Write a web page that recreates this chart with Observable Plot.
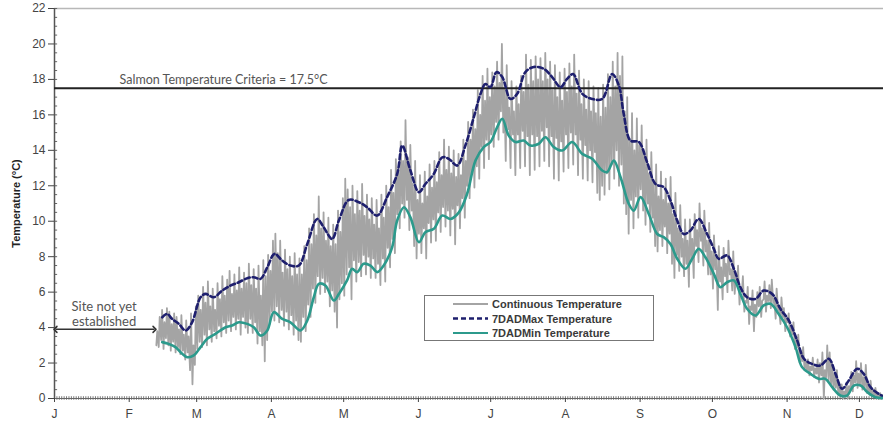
<!DOCTYPE html>
<html><head><meta charset="utf-8">
<script src="https://cdn.jsdelivr.net/npm/d3@7"></script>
<script src="https://cdn.jsdelivr.net/npm/@observablehq/plot@0.6"></script>
<style>
body{margin:0;background:#fff;}
#wrap{position:relative;width:883px;height:425px;overflow:hidden;}
#wrap svg{display:block;}
g[aria-label="y-axis label"] text{font-weight:bold;font-size:11px;fill:#222;}
#legend{position:absolute;left:0;top:0;}
</style></head><body><div id="wrap"></div>
<script>
// ---- data ----
const monthLabels = ["J","F","M","A","M","J","J","A","S","O","N","D"];
const yTicks = [0,2,4,6,8,10,12,14,16,18,20,22];
const criteria = 17.5;
const criteriaLabel = "Salmon Temperature Criteria = 17.5°C";
const siteNote = "Site not yet\nestablished";
const siteEndDay = 42;      // day-of-year when logging starts
const siteArrowY = 3.9;
const lastDay = 344;        // right edge of plot (day-of-year)

// continuous temperature: daily low / high, from day contStartDay
const contStartDay = 42;
const contHigh = [
3.8,4.6,5.0,4.3,5.1,4.9,4.2,4.8,4.6,3.9,
4.7,3.6,4.4,3.5,4.8,3.0,5.2,5.8,5.0,6.3,
5.4,6.6,5.2,6.2,5.0,6.5,5.6,6.9,5.8,6.7,
7.2,5.9,7.0,6.1,7.4,6.2,7.1,6.5,7.6,6.4,
7.3,6.2,7.5,5.8,7.8,6.9,8.1,7.2,8.9,9.3,
8.2,8.9,7.1,8.4,7.3,8.0,6.9,8.2,7.0,7.9,
7.0,8.6,7.8,9.6,8.7,10.4,9.2,11.4,9.6,10.5,
8.9,10.2,8.6,9.8,8.7,10.6,9.4,11.3,12.4,11.8,
10.8,12.0,10.4,11.7,10.6,12.1,10.3,11.5,10.1,11.3,
9.8,11.2,9.6,11.5,10.2,12.0,10.8,12.9,11.6,13.5,
13.0,14.5,13.4,15.7,13.6,14.3,12.1,13.4,11.2,12.6,
11.0,12.8,11.4,13.2,11.9,13.4,12.2,13.9,12.6,14.6,
12.9,14.2,12.7,14.0,12.5,13.8,12.6,14.6,13.4,15.6,
14.6,16.3,15.2,17.4,16.0,18.2,16.8,18.6,17.0,18.4,
17.6,19.0,17.8,20.0,17.5,18.8,16.4,17.9,16.2,17.6,
16.6,18.2,17.3,19.4,17.7,19.1,17.9,19.3,18.0,19.2,
17.9,19.5,18.0,19.0,17.4,18.8,17.0,18.4,16.8,18.6,
17.3,18.9,17.6,19.4,17.2,18.5,16.6,18.0,16.3,17.9,
16.2,17.6,16.1,17.5,15.9,17.7,16.4,18.3,17.0,19.0,
17.6,19.5,18.2,19.3,16.2,17.0,14.6,16.1,14.0,15.8,
14.3,15.4,13.8,14.6,12.7,13.9,12.1,13.2,11.4,12.8,
11.2,12.4,11.0,12.5,10.4,11.6,9.6,10.9,9.0,10.1,
8.9,10.1,9.0,10.4,9.5,11.0,9.6,10.6,8.9,9.9,
8.3,9.2,7.9,8.6,7.4,8.5,7.6,8.9,7.3,8.3,
6.8,7.5,6.2,6.9,5.5,6.3,5.2,6.1,5.3,6.0,
6.3,5.5,6.6,5.8,6.4,6.7,5.6,6.2,5.0,5.7,
5.1,4.5,4.8,4.1,4.3,3.4,3.6,2.7,2.9,2.1,
2.2,1.8,2.3,1.7,2.2,2.0,2.6,1.6,3.0,2.6,
2.0,1.4,1.6,0.9,0.8,0.4,0.9,0.7,1.5,1.3,
2.1,1.4,2.0,1.2,1.9,0.9,1.0,0.5,0.6,0.3,0.3,0.2,0.1];
const contLow = [
3.0,2.9,3.3,2.8,3.4,3.0,2.7,3.2,2.6,2.9,
2.5,2.7,2.2,2.6,1.6,0.8,1.9,2.8,3.2,2.9,
3.6,3.0,3.9,3.2,3.8,3.4,4.1,3.5,4.3,3.7,
4.4,3.8,4.6,3.9,4.5,3.6,4.6,4.0,3.7,4.5,
3.7,4.3,3.1,3.8,3.0,2.1,3.3,4.2,4.9,4.4,
5.2,4.3,5.0,4.1,4.9,3.9,4.7,3.6,4.4,3.3,
3.2,4.6,3.8,5.3,4.6,6.2,5.4,6.9,5.9,6.8,
6.0,6.6,5.2,6.1,4.9,4.0,5.6,6.5,5.8,7.0,
7.4,5.6,7.8,6.6,7.7,6.9,8.1,7.0,8.0,6.8,
7.9,6.8,7.6,6.4,7.9,6.6,8.5,7.4,9.0,8.2,
10.4,9.6,11.0,10.2,11.2,9.5,10.6,8.6,7.9,9.3,
8.2,9.6,7.9,9.9,8.8,10.1,8.9,10.5,9.4,10.8,
9.7,10.6,9.2,10.7,8.7,10.9,9.6,11.3,10.2,12.0,
11.3,12.8,11.9,13.1,12.4,14.2,13.0,14.6,13.5,14.9,
14.2,15.6,14.6,16.2,15.0,13.4,15.2,13.0,14.9,12.6,
14.9,13.0,15.1,13.1,14.8,12.6,14.9,12.9,14.8,13.1,
15.1,13.4,15.3,13.1,14.8,12.4,14.7,12.3,14.5,12.8,
14.9,13.0,15.0,13.2,14.9,12.6,14.6,12.4,14.3,12.3,
14.0,12.2,13.9,11.6,11.2,12.0,11.5,12.7,11.8,13.2,
12.4,14.0,12.0,13.2,11.0,10.4,9.3,11.2,9.6,11.4,
10.2,11.8,10.6,9.8,11.0,9.4,10.2,8.6,8.3,9.5,
8.6,9.7,8.2,9.3,7.6,6.8,8.1,7.2,8.0,6.9,
7.6,6.3,7.9,6.8,8.6,7.7,8.9,7.5,8.3,7.0,
7.0,6.2,7.3,5.0,6.6,5.6,6.9,6.0,7.0,6.1,
5.9,6.5,5.3,6.0,4.9,5.4,4.2,5.0,3.8,4.6,
5.2,4.6,5.6,4.9,5.5,5.1,5.4,4.5,5.0,4.2,
4.6,3.8,4.3,3.5,3.6,2.8,2.9,2.0,2.1,1.6,
1.6,1.3,1.6,1.2,1.4,0.9,1.3,0.0,1.2,1.0,
0.8,0.5,0.6,0.2,0.1,0.0,0.2,0.0,0.5,0.4,
0.9,0.6,0.8,0.5,0.6,0.3,0.2,0.1,0.1,0.0,0.0,0.0,0.0];

// 7-day average of daily maximum (day-of-year, °C)
const maxDays = [44.7,46.7,48.8,51.6,54.4,57.1,60.6,62.7,66.1,69.6,73,76.5,80,82.7,85.5,88.3,91.3,94.5,97.9,101.4,104.9,109,111.7,115.2,118,122.1,126.3,129.7,133.9,138,142.2,144.3,147.7,151.2,153.9,157.4,160.9,163.6,167.1,170.5,174,176.8,178.8,180.9,183.4,185.8,189.2,192,195.4,198.9,203,206.5,210,212.7,215.2,219,223.1,227.3,231.4,234.2,236.2,239,242.5,245.9,249.4,252.8,255.6,258.4,261.1,263.9,267.3,270.8,273.6,275.6,279.1,281.9,284.6,287.4,290.9,294.3,297.8,301.2,304.7,308.2,311,314.4,317.8,321.3,324.1,326.8,329.6,333.1,335.8,338.6,342,344];
const maxVals = [4.58,4.77,4.49,4.21,3.83,4.3,5.71,5.9,5.71,6.09,6.37,6.56,6.79,6.84,6.75,7.4,8.16,7.78,7.5,7.5,8.72,10.13,9.66,9.0,10.04,11.2,11.07,10.79,10.32,11.36,12.67,14.27,12.86,11.64,12.1,12.67,13.6,13.52,13.14,14.27,15.87,17.19,17.74,17.56,18.41,18.13,16.9,17.19,18.41,18.7,18.6,18.13,17.56,18.03,18.3,17.19,16.9,16.9,18.3,17.65,16.06,14.55,14.47,13.33,12.1,11.92,11.17,10.04,9.28,9.48,10.13,9.28,8.44,7.88,8.07,7.32,6.28,5.71,5.62,6.09,5.9,5.06,4.4,3.27,2.24,1.95,1.86,2.24,1.39,0.55,1.02,1.68,1.39,0.64,0.26,0.1];

// 7-day average of daily minimum (day-of-year, °C)
const minDays = [44.7,47.4,50.2,53,55.1,57.8,60.6,63.4,66.8,71,73.7,76.5,80,82.7,85.5,88.3,91,94.5,97.9,102.1,104.9,107.6,109.7,112.4,115.9,118,121.4,123.5,125.6,128.3,131.1,133.9,136.6,140.1,142.2,145,147.7,151.2,153.9,157.4,160.9,164.3,167.8,171.2,174.7,178.1,180.9,183.7,185.8,188.5,191.3,194.7,197.5,201,203.7,207.2,210.7,214.8,219,223.1,227.3,229.3,232.1,234.9,238.3,240.4,243.2,246.6,250.1,252.8,255.6,258.4,261.8,264.6,267.3,270.1,273.6,276.3,279.1,281.9,284.6,287.4,290.9,294.3,297.1,300.5,304,307.5,310.2,313.7,317.1,319.9,322.7,326.1,328.9,331.7,334.5,337.3,340.7,344];
const minVals = [3.18,3.08,2.9,2.52,2.33,2.43,2.9,3.37,3.65,4.02,4.12,4.3,4.21,4.02,3.55,3.84,4.87,4.49,4.3,3.84,4.4,5.71,6.47,6.37,5.53,5.9,6.66,7.32,7.13,7.6,7.5,7.13,7.5,8.53,10.04,10.79,10.22,8.81,9.38,9.57,10.32,10.13,10.5,11.54,13.42,14.18,14.47,15.31,15.78,14.83,14.47,14.55,14.27,14.37,14.74,14.18,13.99,14.47,13.8,13.52,12.86,12.77,13.42,12.48,10.98,10.6,11.36,10.41,9.28,9.1,8.72,7.88,7.32,7.88,8.44,7.97,7.03,6.28,6.56,6.66,5.9,5.06,4.68,5.25,5.34,4.77,4.02,2.9,1.77,1.39,1.11,1.11,0.64,0.17,0.17,0.73,0.73,0.36,0.07,0.02];

// ---- build tables ----
const t0 = Date.UTC(2010,0,1);
const toDate = d => new Date(t0 + d*864e5);
const cont = [];
contHigh.forEach((h,i) => {
  const day = contStartDay + i;
  cont.push({date: toDate(day+0.25), v: contLow[i]});
  cont.push({date: toDate(day+0.65), v: h});
});
const maxLine = maxDays.map((d,i)=>({date: toDate(d), v: maxVals[i]}));
const minLine = minDays.map((d,i)=>({date: toDate(d), v: minVals[i]}));
const monthTicks = monthLabels.map((m,i)=>new Date(Date.UTC(2010,i,1)));
const dayTicks = d3.utcDay.range(toDate(0), toDate(lastDay));
const yMinor = d3.range(0, 22.01, 0.5);
const midDay = siteEndDay / 2;
const arrowSegs = [
  {x1: toDate(midDay), x2: toDate(0.4), y: siteArrowY},
  {x1: toDate(midDay), x2: toDate(siteEndDay - 0.5), y: siteArrowY}
];

const chart = Plot.plot({
  width: 883, height: 425,
  marginLeft: 54, marginRight: 0, marginTop: 8, marginBottom: 27,
  style: {fontFamily: "'Liberation Sans', Arial, sans-serif", fontSize: "12px", color: "#444", background: "#fff"},
  x: {type: "utc", domain: [toDate(0), toDate(lastDay)]},
  y: {domain: [0, 22]},
  marks: [
    Plot.ruleY([22], {stroke: "#b8b8b8", strokeWidth: 1.5}),
    Plot.ruleY(yMinor, {x1: toDate(0), x2: toDate(1.3), stroke: "#666", strokeWidth: 1}),
    Plot.ruleX(dayTicks, {y1: -0.1, y2: 0.1, stroke: "#777", strokeWidth: 1}),
    Plot.ruleY([0], {stroke: "#666", strokeWidth: 1.2}),
    Plot.ruleX([toDate(0)], {y1: 0, y2: 22, stroke: "#555", strokeWidth: 1.5}),
    Plot.axisY({ticks: yTicks, tickSize: 6, tickPadding: 3, tickFormat: d => String(d),
      label: "Temperature (°C)", labelAnchor: "center", labelArrow: "none", labelOffset: 42}),
    Plot.axisX({ticks: monthTicks, tickSize: 4, tickPadding: 7,
      tickFormat: d => monthLabels[d.getUTCMonth()], label: null}),
    Plot.line(cont, {x: "date", y: "v", stroke: "#a4a4a4", strokeWidth: 1.8}),
    Plot.ruleY([criteria], {stroke: "#222", strokeWidth: 2}),
    Plot.line(maxLine, {x: "date", y: "v", stroke: "#1e1f6e", strokeWidth: 2.6, strokeDasharray: "5,3", curve: "catmull-rom"}),
    Plot.line(minLine, {x: "date", y: "v", stroke: "#2c9a8c", strokeWidth: 2.6, curve: "catmull-rom"}),
    Plot.text([criteriaLabel], {x: toDate(27), y: criteria, text: d => d, textAnchor: "start", lineAnchor: "bottom", dy: -4,
      fontFamily: "Lato, 'Open Sans', sans-serif", fontSize: 12.5, fill: "#555"}),
    Plot.link(arrowSegs, {x1: "x1", x2: "x2", y1: "y", y2: "y", stroke: "#333", strokeWidth: 1.5, markerEnd: "arrow"}),
    Plot.text([siteNote], {x: toDate(20.6), y: siteArrowY, text: d => d, textAnchor: "middle", lineAnchor: "bottom", dy: -3,
      lineHeight: 1.15, fontFamily: "Lato, 'Open Sans', sans-serif", fontSize: 13, letterSpacing: "0.3px", fill: "#555"})
  ]
});
const wrap = document.getElementById("wrap");
wrap.appendChild(chart);

// legend
const legendItems = [
  {label: "Continuous Temperature", stroke: "#a4a4a4", dash: null, w: 1.8},
  {label: "7DADMax Temperature", stroke: "#1e1f6e", dash: "5,3", w: 2.6},
  {label: "7DADMin Temperature", stroke: "#2c9a8c", dash: null, w: 2.2}
];
const lg = d3.select(wrap).append("svg").attr("id","legend").attr("width",883).attr("height",425)
  .style("position","absolute").style("left","0px").style("top","0px");
lg.append("rect").attr("x",424.5).attr("y",295.5).attr("width",229).attr("height",45)
  .attr("fill","#fff").attr("stroke","#777").attr("stroke-width",1);
legendItems.forEach((it,i)=>{
  const cy = 304 + i*14.5;
  lg.append("line").attr("x1",453).attr("x2",488).attr("y1",cy).attr("y2",cy)
    .attr("stroke",it.stroke).attr("stroke-width",it.w).attr("stroke-dasharray",it.dash);
  lg.append("text").attr("x",492).attr("y",cy+4).text(it.label)
    .attr("font-family","'Liberation Sans', Arial, sans-serif").attr("font-weight","bold")
    .attr("font-size",11).attr("fill","#3a3a3a");
});
</script>
</body></html>
